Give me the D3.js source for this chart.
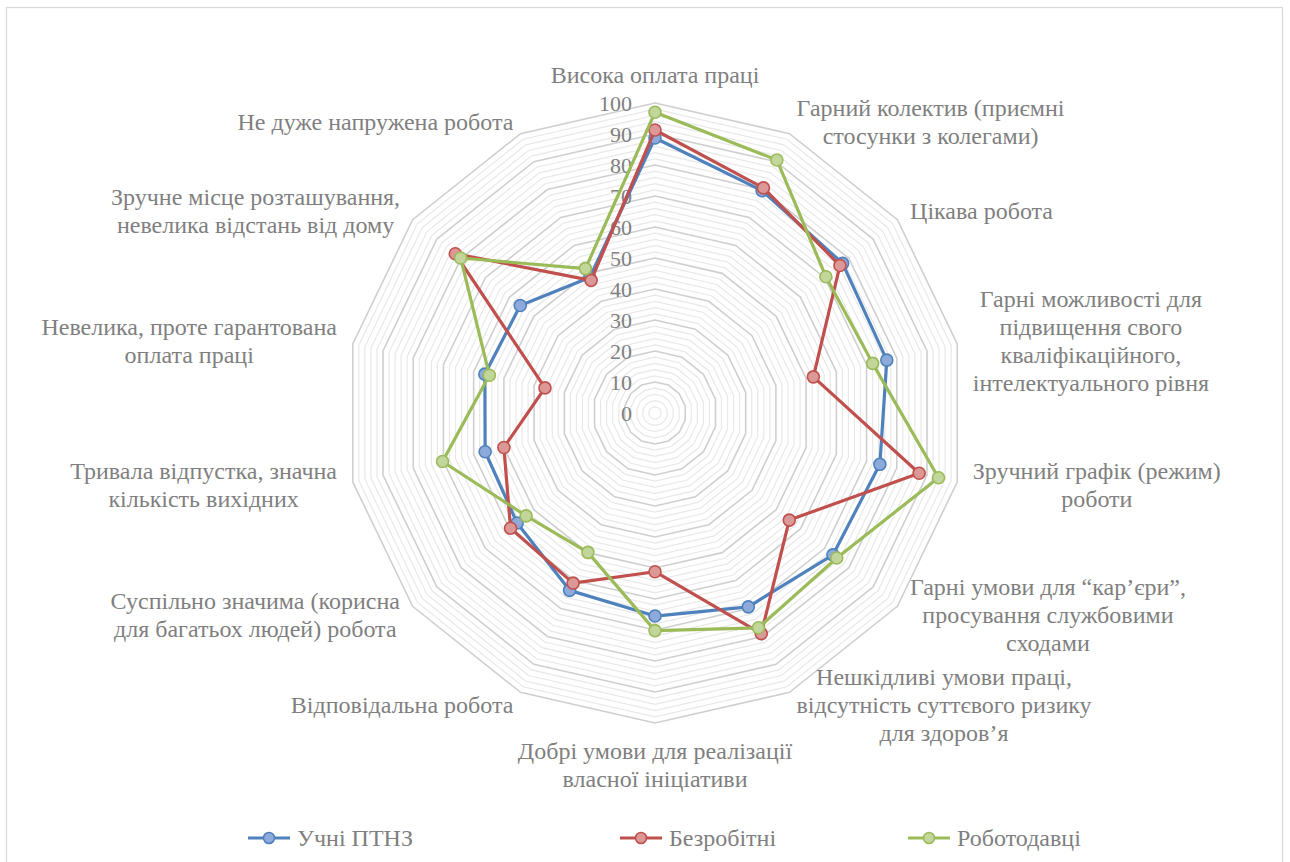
<!DOCTYPE html>
<html><head><meta charset="utf-8">
<script src="https://cdn.jsdelivr.net/npm/d3@7"></script>
<style>
html,body{margin:0;padding:0;background:#fff;}
svg{display:block;}
text{font-family:"Liberation Serif","Times New Roman",serif;fill:#7f7f7f;}
</style></head>
<body>
<svg id="chart" width="1290" height="862"></svg>
<script>
const categories = [
  ["Висока оплата праці"],
  ["Гарний колектив (приємні", "стосунки з колегами)"],
  ["Цікава робота"],
  ["Гарні можливості для", "підвищення свого", "кваліфікаційного,", "інтелектуального рівня"],
  ["Зручний графік (режим)", "роботи"],
  ["Гарні умови для “кар’єри”,", "просування службовими", "сходами"],
  ["Нешкідливі умови праці,", "відсутність суттєвого ризику", "для здоров’я"],
  ["Добрі умови для реалізації", "власної ініціативи"],
  ["Відповідальна робота"],
  ["Суспільно значима (корисна", "для багатьох людей) робота"],
  ["Тривала відпустка, значна", "кількість вихідних"],
  ["Невелика, проте гарантована", "оплата праці"],
  ["Зручне місце розташування,", "невелика відстань від дому"],
  ["Не дуже напружена робота"]
];
const seriesNames = ["Учні ПТНЗ", "Безробітні", "Роботодавці"];
const studentsValues   = [88.7, 79.6, 77.4, 76.7, 74.4, 73.4, 69.4, 65.5, 63.5, 56.9, 56.2, 56.3, 55.6, 48.5];
const unemployedValues = [91.3, 80.6, 76.3, 52.4, 87.4, 55.4, 79.0, 51.2, 60.9, 59.6, 50.0, 36.4, 82.4, 47.5];
const employersValues  = [97.0, 90.6, 70.5, 72.0, 93.8, 75.0, 76.9, 70.2, 49.9, 53.2, 70.3, 54.8, 80.2, 51.7];
const tickLabels = [0, 10, 20, 30, 40, 50, 60, 70, 80, 90, 100];

const colors = ["#4f81bd", "#c0504d", "#9bbb59"];
const fills  = ["#8eaadb", "#dc9896", "#c2d69b"];
const allSeries = [studentsValues, unemployedValues, employersValues];

const svg = d3.select("#chart");
const cx = 655, cy = 413, R = 310;
const n = categories.length;
const r = d3.scaleLinear().domain([0, 100]).range([0, R]);
const ang = d3.scaleLinear().domain([0, n]).range([0, 2 * Math.PI]);

// border
svg.append("rect").attr("x", 6.5).attr("y", 7.5).attr("width", 1276).attr("height", 880)
  .attr("fill", "none").attr("stroke", "#d9d9d9").attr("stroke-width", 1.3);

const g = svg.append("g").attr("transform", `translate(${cx},${cy})`);

// grid rings
const ringLine = d3.lineRadial().angle((d, i) => ang(i)).radius(d => r(d)).curve(d3.curveLinearClosed);
const minor = d3.range(2, 101, 2).filter(v => v % 10 !== 0);
const major = d3.range(10, 101, 10);
g.append("g").selectAll("path").data(minor).join("path")
  .attr("d", v => ringLine(d3.range(n).map(() => v)))
  .attr("fill", "none").attr("stroke", "#e8e8e8").attr("stroke-width", 1.2);
g.append("g").selectAll("path").data(major).join("path")
  .attr("d", v => ringLine(d3.range(n).map(() => v)))
  .attr("fill", "none").attr("stroke", "#cfcfcf").attr("stroke-width", 1.6);

// tick labels
g.append("g").selectAll("text").data(tickLabels).join("text")
  .attr("x", -23).attr("y", v => -r(v)).attr("dy", "0.35em")
  .attr("text-anchor", "end").style("font-size", "22px").text(v => v);

// category labels
const lh = 28;
const labG = g.append("g");
categories.forEach((lines, i) => {
  const a = ang(i);
  const s = Math.sin(a), c = Math.cos(a);
  const px = R * s, py = -R * c;
  let anchor, x, yc;
  const H = lines.length * lh;
  if (Math.abs(s) < 0.1) {
    anchor = "middle"; x = px;
    yc = c > 0 ? py - 14 - H / 2 : py + 14 + H / 2;
  } else {
    anchor = s > 0 ? "start" : "end";
    const gap = 16 * Math.abs(s);
    x = px + (s > 0 ? gap : -gap);
    yc = py - c * 14;
  }
  const t = labG.append("text").attr("text-anchor", "middle").style("font-size", "24px");
  lines.forEach((ln, k) => {
    t.append("tspan").attr("x", 0).attr("y", yc - H / 2 + lh * (k + 0.5)).attr("dy", "0.35em").text(ln);
  });
  const w = t.node().getBBox().width;
  let shift = x;
  if (anchor === "start") shift = x + w / 2;
  else if (anchor === "end") shift = x - w / 2;
  t.attr("transform", `translate(${shift},0)`);
});

// series
allSeries.forEach((vals, si) => {
  const sg = g.append("g");
  sg.append("path").attr("d", ringLine(vals))
    .attr("fill", "none").attr("stroke", colors[si]).attr("stroke-width", 3.2)
    .attr("stroke-linejoin", "round");
  sg.selectAll("circle").data(vals).join("circle")
    .attr("cx", (d, i) => r(d) * Math.sin(ang(i)))
    .attr("cy", (d, i) => -r(d) * Math.cos(ang(i)))
    .attr("r", 6).attr("fill", fills[si]).attr("stroke", colors[si]).attr("stroke-width", 1.6);
});

// legend
const legX = [248, 620, 908];
const legY = 838;
const lg = svg.append("g");
seriesNames.forEach((name, i) => {
  const x0 = legX[i];
  lg.append("line").attr("x1", x0).attr("x2", x0 + 42).attr("y1", legY).attr("y2", legY)
    .attr("stroke", colors[i]).attr("stroke-width", 3.2);
  lg.append("circle").attr("cx", x0 + 21).attr("cy", legY).attr("r", 5.5)
    .attr("fill", fills[i]).attr("stroke", colors[i]).attr("stroke-width", 1.6);
  lg.append("text").attr("x", x0 + 49).attr("y", legY).attr("dy", "0.35em")
    .style("font-size", "24px").text(name);
});
</script>
</body></html>
